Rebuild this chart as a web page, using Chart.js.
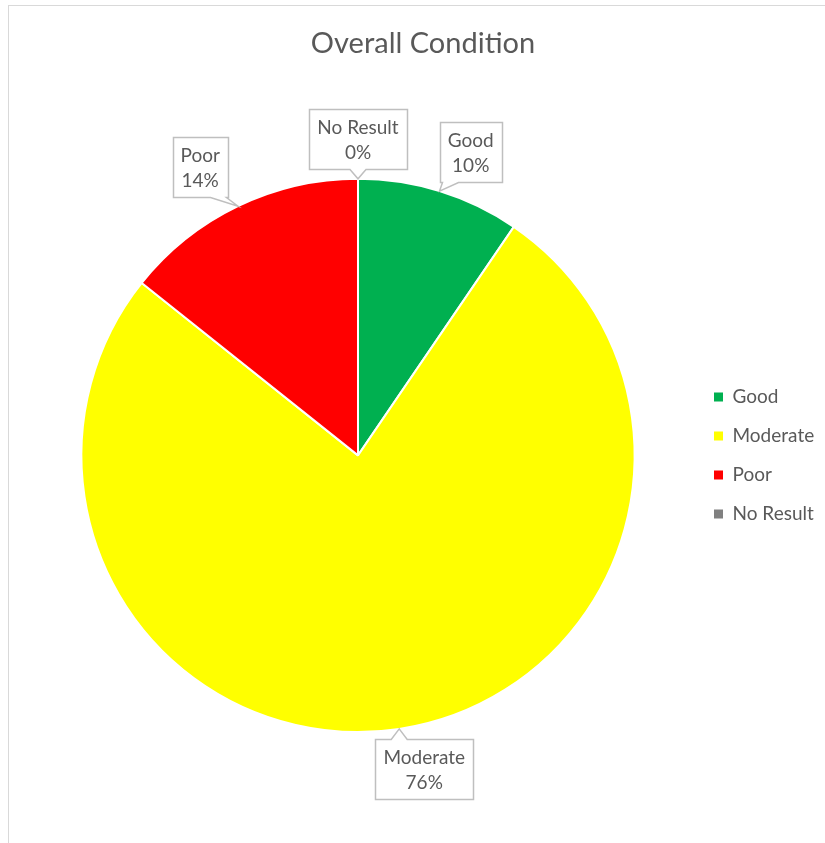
<!DOCTYPE html>
<html>
<head>
<meta charset="utf-8">
<script src="https://cdn.jsdelivr.net/npm/chart.js@4"></script>
<style>
    html, body { margin: 0; padding: 0; background: #fff; }
    body { width: 825px; height: 843px; position: relative; overflow: hidden; }
    #frame { position: absolute; left: 8px; top: 5px; width: 900px; height: 900px; border: 1px solid #d9d9d9; }
    #wrap { position: absolute; left: 0; top: 0; width: 825px; height: 843px; }
</style>
</head>
<body>
<div id="frame"></div>
<div id="wrap"><canvas id="pieChart"></canvas></div>
<script>
const categories = ['Good', 'Moderate', 'Poor', 'No Result'];
const counts = [20, 160, 30, 0];
const sliceColors = ['#00b050', '#ffff00', '#ff0000', '#808080'];

const textColor = '#595959';
const fontFamily = 'Lato, "Open Sans", sans-serif';

// Excel style callout labels: "Name" / "xx%" in a box pointing at the slice edge
const calloutLabels = {
    id: 'calloutLabels',
    afterDatasetsDraw(chart) {
        const ctx = chart.ctx;
        const meta = chart.getDatasetMeta(0);
        const values = chart.data.datasets[0].data;
        const total = values.reduce((a, b) => a + b, 0);

        ctx.save();
        ctx.font = '19px ' + fontFamily;
        ctx.textAlign = 'center';
        ctx.textBaseline = 'middle';

        meta.data.forEach((arc, i) => {
            const { x, y, startAngle, endAngle, outerRadius } =
                arc.getProps(['x', 'y', 'startAngle', 'endAngle', 'outerRadius'], true);
            const mid = (startAngle + endAngle) / 2;
            const ux = Math.cos(mid), uy = Math.sin(mid);
            const tipX = x + ux * outerRadius;
            const tipY = y + uy * outerRadius;

            const lines = [chart.data.labels[i], Math.round(values[i] / total * 100) + '%'];
            const textW = Math.max(...lines.map(t => ctx.measureText(t).width));
            const hw = textW / 2 + 8;
            const hh = 30;

            // push the box out along the slice direction, nudged sideways
            const edge = Math.min(Math.abs(ux) > 1e-6 ? hw / Math.abs(ux) : Infinity,
                                  Math.abs(uy) > 1e-6 ? hh / Math.abs(uy) : Infinity);
            const d = edge + 10;
            const shift = Math.abs(ux) > 0.05 ? Math.sign(ux) * 19 : 0;
            const cx = tipX + ux * d + shift;
            const cy = tipY + uy * d;

            const left = Math.round(cx - hw) + 0.5, right = Math.round(cx + hw) + 0.5;
            const top = Math.round(cy - hh) + 0.5, bottom = Math.round(cy + hh) + 0.5;
            const half = 8;

            ctx.beginPath();
            if (tipY > bottom) {
                const bx = Math.min(Math.max(tipX, left + half + 2), right - half - 2);
                ctx.moveTo(left, top);
                ctx.lineTo(right, top);
                ctx.lineTo(right, bottom);
                ctx.lineTo(bx + half, bottom);
                ctx.lineTo(tipX, tipY);
                ctx.lineTo(bx - half, bottom);
                ctx.lineTo(left, bottom);
            } else if (tipY < top) {
                const bx = Math.min(Math.max(tipX, left + half + 2), right - half - 2);
                ctx.moveTo(left, top);
                ctx.lineTo(bx - half, top);
                ctx.lineTo(tipX, tipY);
                ctx.lineTo(bx + half, top);
                ctx.lineTo(right, top);
                ctx.lineTo(right, bottom);
                ctx.lineTo(left, bottom);
            } else {
                ctx.rect(left, top, right - left, bottom - top);
            }
            ctx.closePath();
            ctx.fillStyle = '#ffffff';
            ctx.fill();
            ctx.strokeStyle = '#bfbfbf';
            ctx.lineWidth = 1.5;
            ctx.stroke();

            ctx.fillStyle = textColor;
            ctx.fillText(lines[0], cx, cy - 11);
            ctx.fillText(lines[1], cx, cy + 14);
        });
        ctx.restore();
    }
};

const ctx = document.getElementById('pieChart').getContext('2d');
new Chart(ctx, {
    type: 'pie',
    data: {
        labels: categories,
        datasets: [{
            data: counts,
            backgroundColor: sliceColors,
            borderColor: '#ffffff',
            borderWidth: 2
        }]
    },
    options: {
        responsive: true,
        maintainAspectRatio: false,
        animation: false,
        layout: { padding: { left: 22, right: 1, top: 0, bottom: 110 } },
        plugins: {
            title: {
                display: true,
                text: 'Overall Condition',
                color: textColor,
                font: { family: fontFamily, size: 29, weight: 'normal' },
                padding: { top: 26, bottom: 117 }
            },
            legend: {
                position: 'right',
                fullSize: false,
                maxWidth: 130,
                labels: {
                    color: textColor,
                    font: { family: fontFamily, size: 19 },
                    boxWidth: 9,
                    boxHeight: 9,
                    padding: 20,
                    generateLabels: (chart) =>
                        Chart.overrides.pie.plugins.legend.labels.generateLabels(chart)
                            .map(l => ({ ...l, lineWidth: 0 }))
                }
            },
            tooltip: { enabled: false }
        }
    },
    plugins: [calloutLabels]
});
</script>
</body>
</html>
